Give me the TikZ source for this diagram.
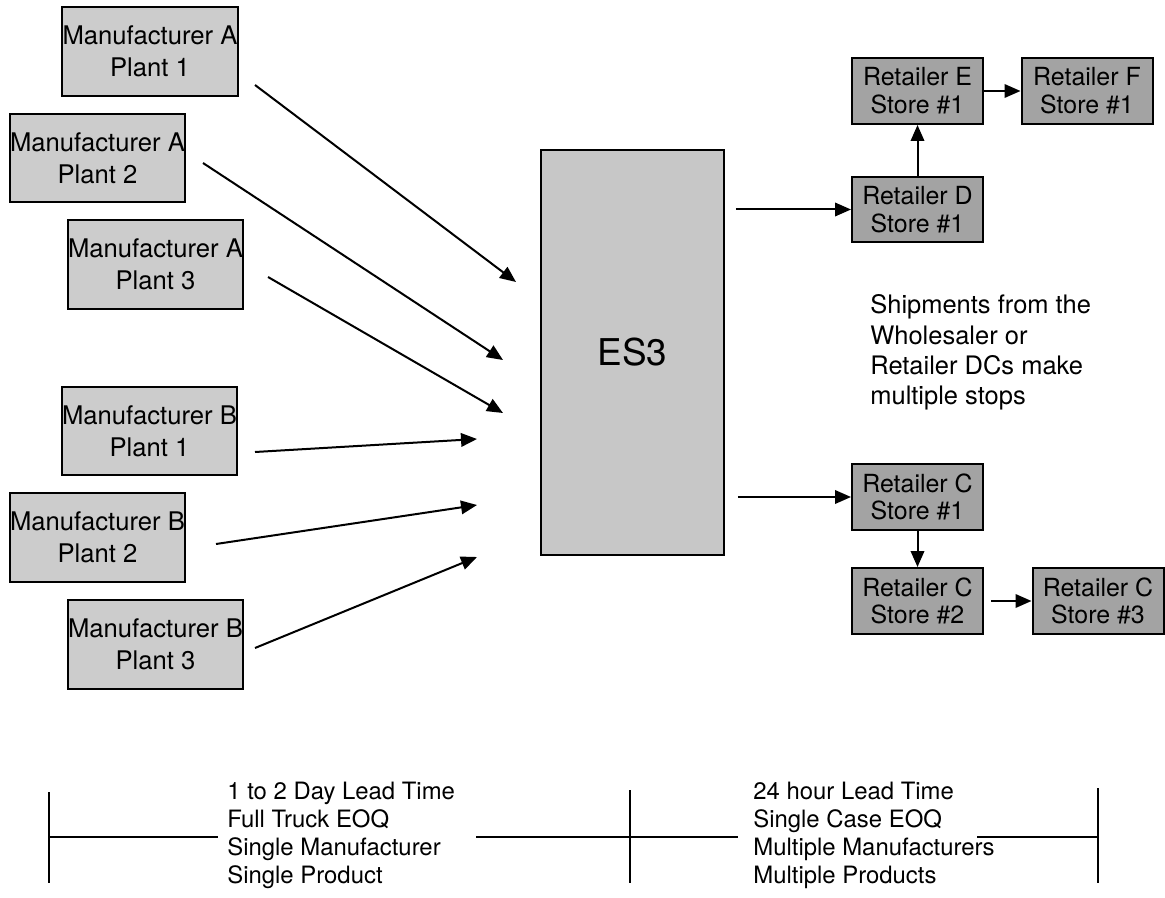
\documentclass[tikz,border=0pt]{standalone}
\usepackage{fontspec}
\setmainfont{TeX Gyre Heros}
\usepackage{tikz}
\usetikzlibrary{arrows.meta}
\definecolor{grisclaro}{gray}{0.80}
\definecolor{grismedio}{gray}{0.78}
\definecolor{grisoscuro}{gray}{0.64}

\tikzset{
  fabrica/.style={draw, line width=0.04cm, fill=grisclaro, inner sep=0pt,
    minimum width=3.52cm, minimum height=1.78cm, align=center,
    font=\fontsize{14.6}{18}\selectfont},
  tienda/.style={draw, line width=0.04cm, fill=grisoscuro, inner sep=0pt,
    minimum width=2.62cm, minimum height=1.32cm, align=center,
    font=\fontsize{14.2}{15.8}\selectfont},
  flecha/.style={line width=0.04cm, -{Triangle[length=0.32cm, width=0.27cm]}},
  linea/.style={line width=0.035cm},
  nota/.style={anchor=west, align=left, inner sep=0pt}
}

\begin{document}
\begin{tikzpicture}[x=0.02cm, y=-0.02cm]
        \useasboundingbox (0,0) rectangle (1165,898);
        % Cajas de los fabricantes
        \node[fabrica] (A1) at (150,51.5) {Manufacturer A\\Plant 1};
        \node[fabrica] (A2) at (97.5,158) {Manufacturer A\\Plant 2};
        \node[fabrica] (A3) at (155.5,264.5) {Manufacturer A\\Plant 3};
        \node[fabrica] (B1) at (149.5,431) {Manufacturer B\\Plant 1};
        \node[fabrica] (B2) at (97.5,537.5) {Manufacturer B\\Plant 2};
        \node[fabrica] (B3) at (155.5,644.5) {Manufacturer B\\Plant 3};

        % Almacen central
        \node[draw, line width=0.04cm, fill=grismedio, minimum width=3.66cm,
          minimum height=8.1cm, font=\fontsize{21}{25}\selectfont] (ES3) at (632.5,352.5) {ES3};

        % Tiendas de los minoristas
        \node[tienda] (E) at (917.5,91) {Retailer E\\Store \#1};
        \node[tienda] (F) at (1087,91) {Retailer F\\Store \#1};
        \node[tienda] (D) at (917.5,209.5) {Retailer D\\Store \#1};
        \node[tienda] (C1) at (917.5,497) {Retailer C\\Store \#1};
        \node[tienda] (C2) at (917.5,601) {Retailer C\\Store \#2};
        \node[tienda] (C3) at (1098,601) {Retailer C\\Store \#3};

        % Nota de las paradas
        \node[nota, font=\fontsize{14.5}{17.3}\selectfont] (paradas) at (870,352.5)
          {Shipments from the\\Wholesaler or\\Retailer DCs make\\multiple stops};

        % Extremos de las flechas de entrada
        \coordinate (sA1) at (255,85);  \coordinate (eA1) at (516,282);
        \coordinate (sA2) at (203,163); \coordinate (eA2) at (503,360);
        \coordinate (sA3) at (268,277); \coordinate (eA3) at (503,413);
        \coordinate (sB1) at (255,452); \coordinate (eB1) at (477,439);
        \coordinate (sB2) at (216,544); \coordinate (eB2) at (477,505);
        \coordinate (sB3) at (255,648); \coordinate (eB3) at (477,557);

        % Flechas hacia el ES3
        \draw[flecha] (sA1) -- (eA1);
        \draw[flecha] (sA2) -- (eA2);
        \draw[flecha] (sA3) -- (eA3);
        \draw[flecha] (sB1) -- (eB1);
        \draw[flecha] (sB2) -- (eB2);
        \draw[flecha] (sB3) -- (eB3);

        % Salidas del ES3 y paradas
        \draw[flecha, shorten <=0.22cm] (ES3.east |- D.west) -- (D.west);
        \draw[flecha, shorten <=0.26cm] (ES3.east |- C1.west) -- (C1.west);
        \draw[flecha] (D.north) -- (E.south);
        \draw[flecha] (E.east) -- (F.west);
        \draw[flecha] (C1.south) -- (C2.north);
        \draw[flecha, shorten <=0.14cm] (C2.east) -- (C3.west);

        % Textos de la escala
        \node[nota, font=\fontsize{13.6}{15.9}\selectfont] (tramo1) at (227,835)
          {1 to 2 Day Lead Time\\Full Truck EOQ\\Single Manufacturer\\Single Product};
        \node[nota, font=\fontsize{13.6}{15.9}\selectfont] (tramo2) at (753,835)
          {24 hour Lead Time\\Single Case EOQ\\Multiple Manufacturers\\Multiple Products};

        % Escala de tiempos
        \draw[linea] (49,792) -- (49,883);
        \draw[linea] (630,790) -- (630,883);
        \draw[linea] (1098,788) -- (1098,883);
        \draw[linea] (49,837) -- (218,837);
        \draw[linea] (476,837) -- (738,837);
        \draw[linea] (977,837) -- (1098,837);
\end{tikzpicture}
\end{document}
